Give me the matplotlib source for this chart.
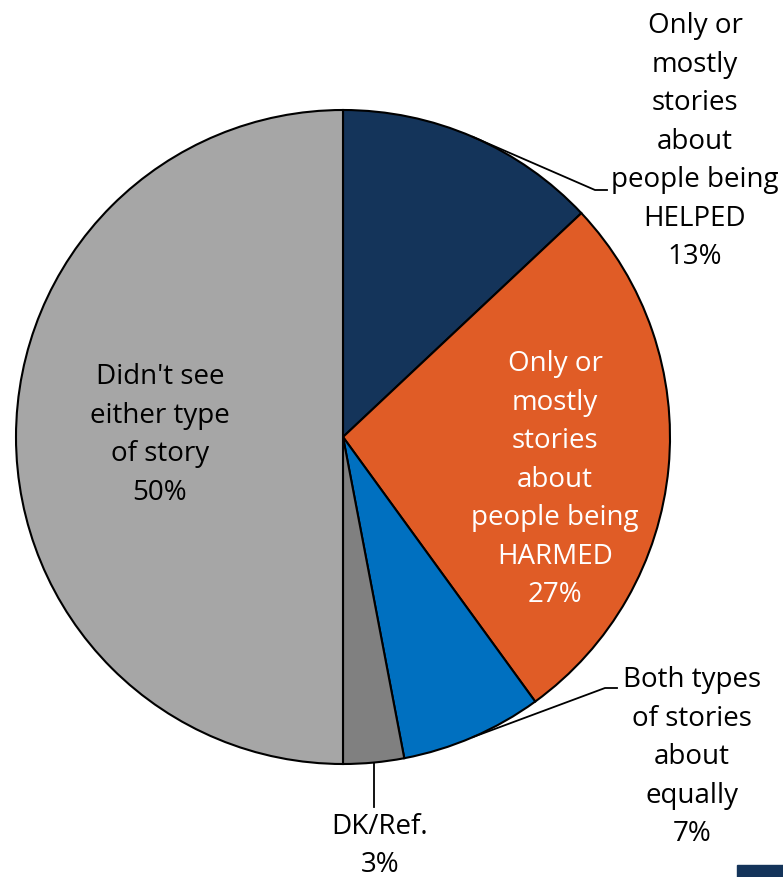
import numpy as np
import matplotlib
matplotlib.use('Agg')
import matplotlib.pyplot as plt
from matplotlib.patches import Rectangle

categories = [
    'Only or\nmostly\nstories\nabout\npeople being\nHELPED',
    'Only or\nmostly\nstories\nabout\npeople being\nHARMED',
    'Both types\nof stories\nabout\nequally',
    'DK/Ref.',
    "Didn't see\neither type\nof story",
]
shares = [13, 27, 7, 3, 50]
colors = ['#14345a', '#e05c26', '#0070c0', '#808080', '#a6a6a6']

plt.rcParams['font.family'] = ['Open Sans', 'DejaVu Sans']

W, H = 783, 877
fig = plt.figure(figsize=(W / 100, H / 100), dpi=100)
ax = fig.add_axes([0, 0, 1, 1])

cx, cy, r = 343, H - 437, 327
wedges, _ = ax.pie(shares, colors=colors, startangle=90, counterclock=False,
                   center=(cx, cy), radius=r,
                   wedgeprops=dict(edgecolor='black', linewidth=1.5))

ax.set_xlim(0, W)
ax.set_ylim(0, H)
ax.set_aspect('auto')
ax.axis('off')


def mid_point(w, rad=r):
    a = np.deg2rad((w.theta1 + w.theta2) / 2)
    return cx + rad * np.cos(a), cy + rad * np.sin(a)


fs = 20
lsp = 1.5

# label text positions (pixel coords from top-left)
label_pos = [(695, 142), (555, 480), (692, 757), (380, 846), (160, 435)]
label_col = ['black', 'white', 'black', 'black', 'black']
for lab, val, (px, py), c in zip(categories, shares, label_pos, label_col):
    ax.text(px, H - py, f'{lab}\n{val}%', ha='center', va='center',
            fontsize=fs, color=c, linespacing=lsp)

# leader lines for the labels outside the pie
x0, y0 = mid_point(wedges[0])
ax.plot([x0, 595, 607], [y0, H - 190, H - 190], color='black', lw=1.3)
x2, y2 = mid_point(wedges[2])
ax.plot([x2, 605, 617], [y2, H - 688, H - 688], color='black', lw=1.3)
x3, y3 = mid_point(wedges[3])
ax.plot([x3, x3], [y3, H - 807], color='black', lw=1.3)

# small bar in the corner
fig.patches.append(Rectangle((737 / W, 0), 46 / W, 12 / H,
                             transform=fig.transFigure, color='#14345a'))

fig.savefig('out.png', dpi=100)
